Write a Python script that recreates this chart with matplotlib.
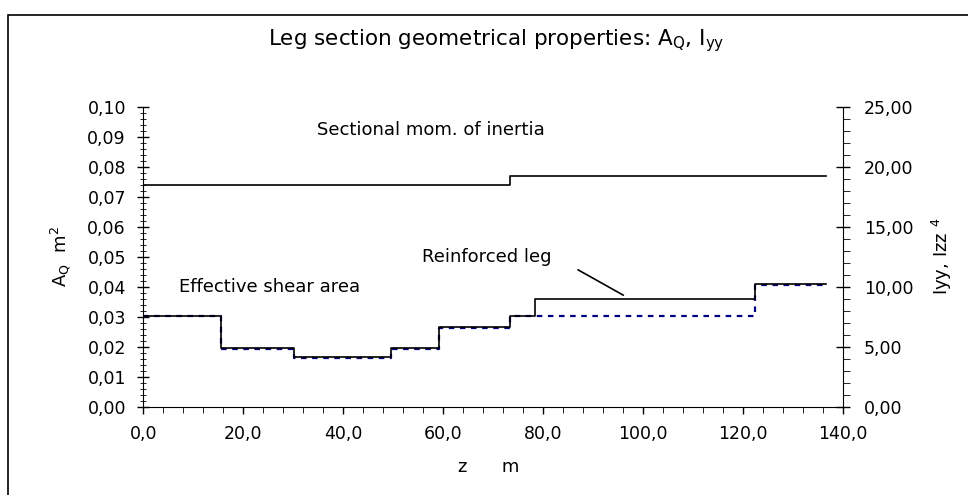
#!/usr/bin/env python
# Leg section geometrical properties: shear area (left axis) and inertia (right axis)

import matplotlib
matplotlib.use("Agg")
import matplotlib.pyplot as plt
from matplotlib.ticker import MultipleLocator, FuncFormatter
from matplotlib.patches import Rectangle

plt.rcParams['font.family'] = ['DejaVu Sans']
plt.rcParams['mathtext.fontset'] = 'dejavusans'

# step boundaries along the leg, z in m
z_reinf = [0.0, 15.5, 30.1, 49.5, 59.2, 73.3, 78.3, 122.3, 136.5]
# effective shear area, reinforced leg (m2), one value per segment
aq_reinf = [0.0303, 0.0196, 0.0164, 0.0196, 0.0264, 0.0303, 0.0358, 0.0409]

z_orig = [0.0, 15.5, 30.1, 49.5, 59.2, 73.3, 122.3, 136.5]
# effective shear area, original leg (m2)
aq_orig = [0.0301, 0.0193, 0.0163, 0.0193, 0.0261, 0.0303, 0.0406]

# sectional moment of inertia (right axis)
z_iner = [0.0, 73.3, 136.5]
iyy = [18.5, 19.2]


def steps(z, v):
    # repeat last value so 'post' step reaches the end point
    return z, list(v) + [v[-1]]


fig = plt.figure(figsize=(9.68, 4.95), dpi=100)
ax = fig.add_axes([0.148, 0.1784, 0.723, 0.606])
ax2 = ax.twinx()

x, y = steps(z_orig, aq_orig)
ax.step(x, y, where='post', color='#000080', lw=1.6, ls=(0, (2.5, 2.5)), zorder=2)
x, y = steps(z_reinf, aq_reinf)
ax.step(x, y, where='post', color='black', lw=1.2, zorder=3)
x, y = steps(z_iner, iyy)
ax2.step(x, y, where='post', color='black', lw=1.2)

ax.set_xlim(0, 140)
ax.set_ylim(0, 0.10)
ax2.set_ylim(0, 25)

ax.xaxis.set_major_locator(MultipleLocator(20))
ax.xaxis.set_minor_locator(MultipleLocator(4))
ax.yaxis.set_major_locator(MultipleLocator(0.01))
ax.yaxis.set_minor_locator(MultipleLocator(0.002))
ax2.yaxis.set_major_locator(MultipleLocator(5))
ax2.yaxis.set_minor_locator(MultipleLocator(1))

ax.xaxis.set_major_formatter(FuncFormatter(lambda v, p: ('%.1f' % v).replace('.', ',')))
ax.yaxis.set_major_formatter(FuncFormatter(lambda v, p: ('%.2f' % v).replace('.', ',')))
ax2.yaxis.set_major_formatter(FuncFormatter(lambda v, p: ('%.2f' % v).replace('.', ',')))

for a in (ax, ax2):
    a.spines['top'].set_visible(False)
    a.tick_params(labelsize=12.5, colors='black', width=1)
ax.spines['right'].set_visible(False)
ax2.spines['left'].set_visible(False)
ax2.spines['bottom'].set_visible(False)

ax.tick_params(axis='y', which='major', direction='inout', length=9, pad=8)
ax.tick_params(axis='y', which='minor', direction='inout', length=5)
ax.tick_params(axis='x', which='major', direction='out', length=5, pad=8)
ax.tick_params(axis='x', which='minor', direction='out', length=4)
ax2.tick_params(axis='y', which='major', direction='inout', length=10, pad=10)
ax2.tick_params(axis='y', which='minor', direction='out', length=5)

ax.set_ylabel(r'A$_\mathrm{Q}$  m$^2$', fontsize=13, labelpad=10)
ax2.set_ylabel(r'Iyy, Izz $^4$', fontsize=13, labelpad=12)

ax.text(57.5, 0.0922, 'Sectional mom. of inertia', fontsize=13, ha='center', va='center')
ax.text(7.2, 0.0400, 'Effective shear area', fontsize=13, ha='left', va='center')
ax.text(55.7, 0.0500, 'Reinforced leg', fontsize=13, ha='left', va='center')
ax.plot([87.0, 96.0], [0.0456, 0.0372], color='black', lw=1.2)

fig.text(0.513, 0.918, r'Leg section geometrical properties: A$_\mathrm{Q}$, I$_\mathrm{yy}$',
         fontsize=15.5, ha='center', va='center')
fig.text(0.505, 0.057, 'z      m', fontsize=13, ha='center', va='center')

# outer frame of the chart (open at right and bottom edges)
fig.patches.append(Rectangle((8 / 968, -0.05), 1.2, 1.05 - 15 / 495,
                             transform=fig.transFigure, fill=False,
                             edgecolor='black', lw=1.2))

fig.savefig('out.png', dpi=100)
